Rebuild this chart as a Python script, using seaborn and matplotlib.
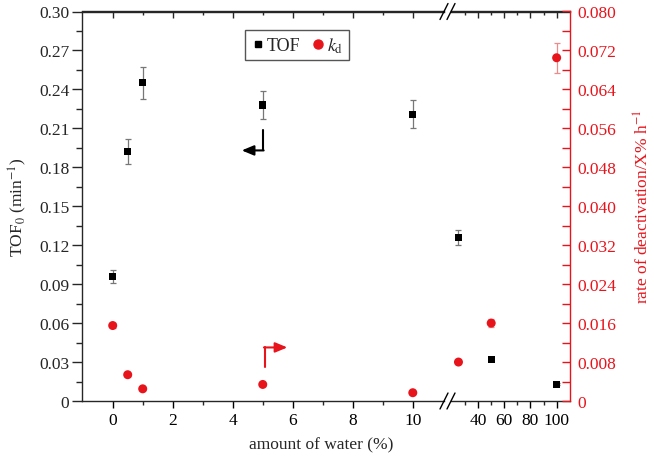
import seaborn as sns
import matplotlib.pyplot as plt
from matplotlib.ticker import FixedLocator, FuncFormatter
from matplotlib.lines import Line2D

water = [0, 0.5, 1, 5, 10, 25, 50, 100]
tof = [0.096, 0.192, 0.245, 0.228, 0.221, 0.126, 0.032, 0.013]
tof_err = [0.005, 0.0095, 0.0125, 0.011, 0.011, 0.006, 0.0015, 0.001]
kd = [0.0155, 0.0054, 0.0025, 0.0034, 0.0017, 0.0080, 0.0160, 0.0705]
kd_err = [0.0005, 0.0003, 0.0003, 0.0003, 0.0003, 0.0004, 0.0008, 0.0031]

left_major = [0, 2, 4, 6, 8, 10]
left_minor = [1, 3, 5, 7, 9]
right_major = [40, 60, 80, 100]
right_minor = [30, 50, 70, 90]
tof_ticks = [0, 0.03, 0.06, 0.09, 0.12, 0.15, 0.18, 0.21, 0.24, 0.27, 0.30]
kd_ticks = [0, 0.008, 0.016, 0.024, 0.032, 0.040, 0.048, 0.056, 0.064, 0.072, 0.080]

sns.set_theme(style="ticks")
plt.rcParams['font.family'] = ['Liberation Serif', 'DejaVu Serif']
plt.rcParams['mathtext.fontset'] = 'stix'
plt.rcParams['axes.linewidth'] = 1.0

W, H = 654, 460
fig = plt.figure(figsize=(6.54, 4.60), dpi=100)
bottom = 1 - 402 / H
top = 1 - 12.5 / H
ax1 = fig.add_axes([82 / W, bottom, (444 - 82) / W, top - bottom])
ax2 = fig.add_axes([451 / W, bottom, (570 - 451) / W, top - bottom])
ax1r = ax1.twinx()
ax2r = ax2.twinx()

red = '#e8141c'
fs = 12.5

for a, ar in [(ax1, ax1r), (ax2, ax2r)]:
    a.errorbar(water, tof, yerr=tof_err, fmt='none', ecolor='#777777',
               elinewidth=0.9, capsize=2.5, capthick=0.9, zorder=2)
    sns.scatterplot(x=water, y=tof, ax=a, marker='s', s=26, color='black',
                    edgecolor='none', zorder=3, legend=False)
    ar.errorbar(water, kd, yerr=kd_err, fmt='none', ecolor='#f08a8a',
                elinewidth=0.9, capsize=2.5, capthick=0.9, zorder=2)
    sns.scatterplot(x=water, y=kd, ax=ar, marker='o', s=42, color=red,
                    edgecolor='none', zorder=3, legend=False)
    a.set_ylim(0, 0.30)
    ar.set_ylim(0, 0.080)
    a.set_xlabel('')
    a.set_ylabel('')

ax1.set_xlim(-1.023, 11.04)
ax2.set_xlim(19.3, 110.2)
ax1r.set_xlim(ax1.get_xlim())
ax2r.set_xlim(ax2.get_xlim())

# x ticks
for a, maj, mnr in [(ax1, left_major, left_minor), (ax2, right_major, right_minor)]:
    a.xaxis.set_major_locator(FixedLocator(maj))
    a.xaxis.set_minor_locator(FixedLocator(mnr))
    a.tick_params(axis='x', which='major', direction='out', length=5, width=1,
                  labelsize=fs, colors='black', pad=3)
    a.tick_params(axis='x', which='minor', direction='out', length=3, width=1)
    sec = a.secondary_xaxis('top')
    sec.xaxis.set_major_locator(FixedLocator(maj))
    sec.xaxis.set_minor_locator(FixedLocator(mnr))
    sec.tick_params(axis='x', which='major', direction='in', length=5, width=1,
                    labeltop=False)
    sec.tick_params(axis='x', which='minor', direction='in', length=3, width=1)

# left y axis
ax1.yaxis.set_major_locator(FixedLocator(tof_ticks))
ax1.yaxis.set_minor_locator(FixedLocator([t + 0.015 for t in tof_ticks[:-1]]))
ax1.yaxis.set_major_formatter(FuncFormatter(lambda v, p: '0' if v == 0 else f'{v:.2f}'))
ax1.tick_params(axis='y', which='major', direction='out', length=7, width=1,
                labelsize=fs, pad=2)
ax1.tick_params(axis='y', which='minor', direction='out', length=4, width=1)
ax1.spines['right'].set_visible(False)
ax1.set_ylabel('TOF$_0$ (min$^{-1}$)', fontsize=fs, labelpad=7)

ax2.spines['left'].set_visible(False)
ax2.spines['right'].set_visible(False)
ax2.tick_params(axis='y', which='both', left=False, labelleft=False)

# kd twin on the left segment is invisible
for s in ax1r.spines.values():
    s.set_visible(False)
ax1r.tick_params(axis='y', which='both', right=False, labelright=False)

# red right axis
for s in ['top', 'bottom', 'left']:
    ax2r.spines[s].set_visible(False)
ax2r.spines['right'].set_color(red)
ax2r.yaxis.set_major_locator(FixedLocator(kd_ticks))
ax2r.yaxis.set_minor_locator(FixedLocator([t + 0.004 for t in kd_ticks[:-1]]))
ax2r.yaxis.set_major_formatter(FuncFormatter(lambda v, p: '0' if v == 0 else f'{v:.3f}'))
ax2r.tick_params(axis='y', which='major', direction='in', length=6, width=1,
                 colors=red, labelsize=fs, pad=5)
ax2r.tick_params(axis='y', which='minor', direction='in', length=6, width=1,
                 colors=red)
ax2r.set_ylabel('rate of deactivation/X% h$^{-1}$', color=red, fontsize=fs,
                labelpad=13)

# arrows pointing to each axis
ax1.plot([5, 5], [0.2085, 0.193], color='black', lw=1.5, zorder=4)
ax1.annotate('', xy=(4.3, 0.193), xytext=(5.03, 0.193),
             arrowprops=dict(arrowstyle='-|>,head_length=0.6,head_width=0.25',
                             color='black', lw=1.5, shrinkA=0, shrinkB=0))
ax1r.plot([5.07, 5.07], [0.0069, 0.011], color=red, lw=1.5, zorder=4)
ax1r.annotate('', xy=(5.82, 0.011), xytext=(5.04, 0.011),
              arrowprops=dict(arrowstyle='-|>,head_length=0.6,head_width=0.25',
                              color=red, lw=1.5, shrinkA=0, shrinkB=0))

# axis break marks
for yb in [402, 12.5]:
    for xb in [444, 451]:
        fig.add_artist(Line2D([(xb - 4) / W, (xb + 4) / W],
                              [1 - (yb + 8) / H, 1 - (yb - 8) / H],
                              transform=fig.transFigure, color='black', lw=1.0))

fig.text(321 / W, 1 - 445 / H, 'amount of water (%)', ha='center', va='center',
         fontsize=fs)

handles = [Line2D([], [], marker='s', ls='none', color='black', ms=5),
           Line2D([], [], marker='o', ls='none', color=red, ms=6.5)]
fig.legend(handles, ['TOF', '$k_\\mathrm{d}$'], loc='upper center',
           bbox_to_anchor=(297 / W, 1 - 22 / H), ncol=2, fontsize=fs + 0.5,
           frameon=True, fancybox=False, edgecolor='#555555', framealpha=1,
           handletextpad=0.1, columnspacing=0.6, handlelength=0.8,
           borderpad=0.3)

fig.savefig('out.png', dpi=100)
plt.close()
